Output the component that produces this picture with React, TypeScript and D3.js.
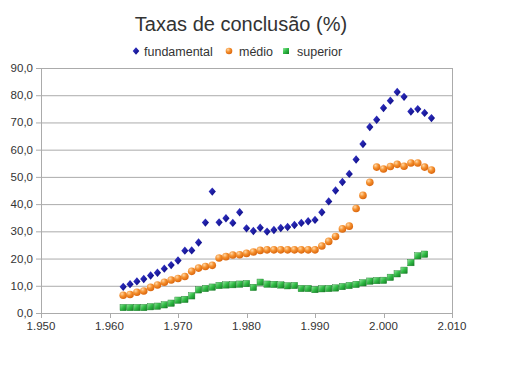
import * as React from "react";
import * as d3 from "d3";

const years = [
  1962, 1963, 1964, 1965, 1966, 1967, 1968, 1969, 1970, 1971, 1972, 1973,
  1974, 1975, 1976, 1977, 1978, 1979, 1980, 1981, 1982, 1983, 1984, 1985,
  1986, 1987, 1988, 1989, 1990, 1991, 1992, 1993, 1994, 1995, 1996, 1997,
  1998, 1999, 2000, 2001, 2002, 2003, 2004, 2005, 2006, 2007,
];

const fundamental = [
  9.6, 10.6, 11.6, 12.5, 13.8, 14.8, 16.3, 17.6, 19.3, 22.9, 23.0, 25.9,
  33.2, 44.6, 33.3, 34.8, 33.1, 37.0, 31.1, 30.1, 31.3, 29.9, 30.5, 31.2,
  31.6, 32.3, 33.1, 33.7, 34.2, 37.0, 41.0, 45.0, 48.1, 51.1, 56.4, 62.1,
  68.3, 71.0, 75.3, 78.0, 81.2, 79.4, 74.0, 74.9, 73.5, 71.6,
];

const medio = [
  6.5, 6.8, 7.6, 8.1, 9.4, 10.3, 11.3, 12.1, 12.7, 13.4, 15.3, 16.5,
  17.1, 17.5, 20.2, 20.7, 21.3, 21.4, 21.9, 22.4, 23.0, 23.2, 23.2, 23.2,
  23.2, 23.2, 23.2, 23.2, 23.2, 24.6, 26.3, 28.1, 30.9, 31.9, 38.4, 43.2,
  48.0, 53.6, 52.9, 53.8, 54.6, 53.9, 55.1, 55.1, 53.6, 52.5,
];

// superior stops at 2006
const superior = [
  2.0, 2.0, 2.0, 2.0, 2.3, 2.5, 3.0, 3.6, 4.7, 5.0, 6.3, 8.5,
  9.0, 9.5, 10.1, 10.3, 10.4, 10.6, 10.8, 9.4, 11.3, 10.6, 10.5, 10.3,
  10.0, 10.1, 9.0, 9.0, 8.6, 8.9, 9.0, 9.2, 9.7, 10.1, 10.5, 11.1,
  11.7, 11.9, 12.0, 13.1, 14.4, 15.7, 18.5, 21.0, 21.6,
];

const xTicks = [1950, 1960, 1970, 1980, 1990, 2000, 2010];
const yTicks = [0, 10, 20, 30, 40, 50, 60, 70, 80, 90];
const seriesNames = ["fundamental", "médio", "superior"];

const ptBR = d3.formatLocale({
  decimal: ",",
  thousands: ".",
  grouping: [3],
  currency: ["R$", ""],
});

function drawChart(svgRef) {
  const svg = d3.select(svgRef.current);
  svg.selectAll("*").remove();
  const font = "Liberation Sans, Arial, sans-serif";
  const textColor = "#333333";
  const gridColor = "#ababab";

  const xScale = d3.scaleLinear().domain([1950, 2010]).range([41, 452]);
  const yScale = d3.scaleLinear().domain([0, 90]).range([313, 68]);

  const defs = svg.append("defs");
  const orangeGrad = defs
    .append("radialGradient")
    .attr("id", "gOrange")
    .attr("cx", "35%")
    .attr("cy", "30%")
    .attr("r", "75%");
  orangeGrad.append("stop").attr("offset", "0%").attr("stop-color", "#ffd8a8");
  orangeGrad.append("stop").attr("offset", "45%").attr("stop-color", "#f5902e");
  orangeGrad.append("stop").attr("offset", "100%").attr("stop-color", "#d8620a");

  const greenGrad = defs
    .append("linearGradient")
    .attr("id", "gGreen")
    .attr("x1", "0%")
    .attr("y1", "0%")
    .attr("x2", "100%")
    .attr("y2", "100%");
  greenGrad.append("stop").attr("offset", "0%").attr("stop-color", "#8fe79a");
  greenGrad.append("stop").attr("offset", "50%").attr("stop-color", "#2fb944");
  greenGrad.append("stop").attr("offset", "100%").attr("stop-color", "#137a22");

  const blueGrad = defs
    .append("linearGradient")
    .attr("id", "gBlue")
    .attr("x1", "0%")
    .attr("y1", "0%")
    .attr("x2", "100%")
    .attr("y2", "100%");
  blueGrad.append("stop").attr("offset", "0%").attr("stop-color", "#3a3ad0");
  blueGrad.append("stop").attr("offset", "100%").attr("stop-color", "#05057a");

  // title
  svg
    .append("text")
    .attr("x", 241)
    .attr("y", 31)
    .attr("text-anchor", "middle")
    .attr("font-family", font)
    .attr("font-size", 20)
    .attr("fill", textColor)
    .text("Taxas de conclusão (%)");

  // grid + y axis labels
  const yFmt = ptBR.format(".1f");
  svg
    .append("g")
    .selectAll("line")
    .data(yTicks)
    .enter()
    .append("line")
    .attr("x1", 36)
    .attr("x2", 452)
    .attr("y1", (d) => yScale(d) + 0.5)
    .attr("y2", (d) => yScale(d) + 0.5)
    .attr("stroke", gridColor);

  svg
    .append("g")
    .selectAll("text")
    .data(yTicks)
    .enter()
    .append("text")
    .attr("x", 33)
    .attr("y", (d) => yScale(d) + 4)
    .attr("text-anchor", "end")
    .attr("font-family", font)
    .attr("font-size", 11.5)
    .attr("fill", textColor)
    .text((d) => yFmt(d));

  // axes frame
  svg
    .append("line")
    .attr("x1", 41.5)
    .attr("x2", 41.5)
    .attr("y1", yScale(90))
    .attr("y2", yScale(0))
    .attr("stroke", gridColor);
  svg
    .append("line")
    .attr("x1", 452.5)
    .attr("x2", 452.5)
    .attr("y1", yScale(90))
    .attr("y2", yScale(0))
    .attr("stroke", gridColor);

  const xFmt = ptBR.format(",d");
  svg
    .append("g")
    .selectAll("line")
    .data(xTicks)
    .enter()
    .append("line")
    .attr("x1", (d) => Math.round(xScale(d)) + 0.5)
    .attr("x2", (d) => Math.round(xScale(d)) + 0.5)
    .attr("y1", yScale(0))
    .attr("y2", yScale(0) + 5)
    .attr("stroke", gridColor);
  svg
    .append("g")
    .selectAll("text")
    .data(xTicks)
    .enter()
    .append("text")
    .attr("x", (d) => xScale(d))
    .attr("y", 330)
    .attr("text-anchor", "middle")
    .attr("font-family", font)
    .attr("font-size", 11.5)
    .attr("fill", textColor)
    .text((d) => xFmt(d));

  const diamond = (cx, cy, w, h) =>
    `M${cx},${cy - h}L${cx + w},${cy}L${cx},${cy + h}L${cx - w},${cy}Z`;

  // superior (squares)
  svg
    .append("g")
    .selectAll("rect")
    .data(superior.map((v, i) => ({ year: years[i], value: v })))
    .enter()
    .append("rect")
    .attr("x", (d) => xScale(d.year) - 3.2)
    .attr("y", (d) => yScale(d.value) - 3.2)
    .attr("width", 6.4)
    .attr("height", 6.4)
    .attr("fill", "url(#gGreen)")
    .attr("stroke", "#1a7a28")
    .attr("stroke-width", 0.4);

  // médio (spheres)
  svg
    .append("g")
    .selectAll("circle")
    .data(medio.map((v, i) => ({ year: years[i], value: v })))
    .enter()
    .append("circle")
    .attr("cx", (d) => xScale(d.year))
    .attr("cy", (d) => yScale(d.value))
    .attr("r", 3.8)
    .attr("fill", "url(#gOrange)");

  // fundamental (diamonds)
  svg
    .append("g")
    .selectAll("path")
    .data(fundamental.map((v, i) => ({ year: years[i], value: v })))
    .enter()
    .append("path")
    .attr("d", (d) => diamond(xScale(d.year), yScale(d.value), 3.6, 4.2))
    .attr("fill", "url(#gBlue)");

  // legend
  const legendY = 51;
  const legend = svg.append("g").attr("font-family", font).attr("font-size", 12.5).attr("fill", textColor);
  legend
    .append("path")
    .attr("d", diamond(136, legendY, 3.3, 3.8))
    .attr("fill", "url(#gBlue)");
  legend.append("text").attr("x", 144).attr("y", legendY + 4.5).text(seriesNames[0]);
  legend
    .append("circle")
    .attr("cx", 229)
    .attr("cy", legendY)
    .attr("r", 3.3)
    .attr("fill", "url(#gOrange)");
  legend.append("text").attr("x", 239).attr("y", legendY + 4.5).text(seriesNames[1]);
  legend
    .append("rect")
    .attr("x", 283)
    .attr("y", legendY - 3)
    .attr("width", 6)
    .attr("height", 6)
    .attr("fill", "url(#gGreen)");
  legend.append("text").attr("x", 297).attr("y", legendY + 4.5).text(seriesNames[2]);
}

const App = () => {
  const svg = React.useRef(null);
  React.useEffect(() => {
    drawChart(svg);
  }, [svg]);

  return (
    <svg
      ref={svg}
      width={512}
      height={384}
      style={{ position: "fixed", left: 0, top: 0, background: "#ffffff" }}
    />
  );
};

export default App;
